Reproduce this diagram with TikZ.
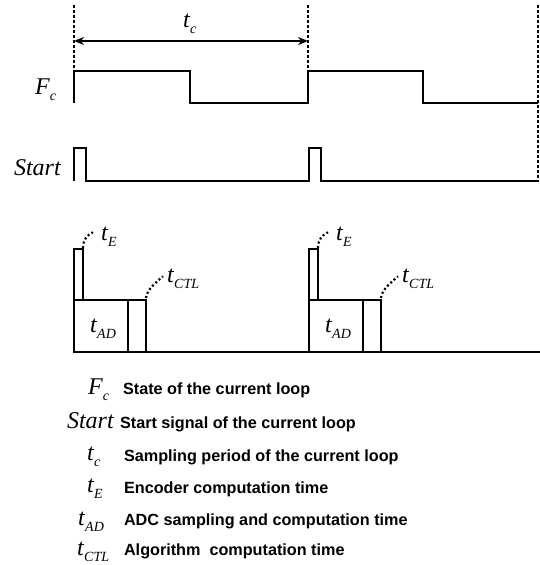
\documentclass[tikz,border=0pt]{standalone}
\usepackage{fontspec}
\setmainfont{Liberation Serif}
\newfontfamily\legendfont{Liberation Sans}
\usetikzlibrary{arrows.meta}
% italic symbol with a lowered small subscript
\newcommand{\sig}[2]{\textit{#1}\raisebox{-6pt}{\fontsize{14}{14}\selectfont\textit{#2}}}

\begin{document}
\begin{tikzpicture}[x=1pt, y=-1pt, line width=2.1pt,
  sym/.style={font=\fontsize{24}{24}\selectfont, inner sep=0pt, anchor=base west},
  desc/.style={font=\legendfont\bfseries\fontsize{16.2}{16.2}\selectfont, inner sep=0pt, anchor=base west},
  guide/.style={line width=1.8pt, dash pattern=on 3pt off 2pt},
  leader/.style={line width=2.2pt, dash pattern=on 2pt off 2.5pt}]
  \useasboundingbox (0,0) rectangle (540,565);

  % period guides
  \coordinate (ga) at (74,5);   \coordinate (gb) at (308,5);   \coordinate (gc) at (538,5);
  \draw[guide] (ga) -- (74,71);
  \draw[guide] (gb) -- (308,71);
  \draw[guide] (gc) -- (538,182);
  \coordinate (pa) at (74,41);  \coordinate (pb) at (308,41);
  \draw[{Stealth[length=10pt,width=8pt]}-{Stealth[length=10pt,width=8pt]}] (pa) -- (pb);
  \node[sym] (tc) at (182,27) {\sig{t}{c}};

  % F_c waveform
  \node[sym] (fc) at (34,94) {\sig{F}{c}};
  \draw (74,103) -- (74,71) -- (190,71) -- (190,103) -- (308,103)
        -- (308,71) -- (423,71) -- (423,103) -- (538,103);

  % Start waveform
  \node[sym] (start) at (13,175) {\textit{Start}};
  \draw (74,181) -- (74,148) -- (86,148) -- (86,181) -- (309,181)
        -- (309,148) -- (321,148) -- (321,181) -- (538,181);

  % task blocks in each period
  \draw (74,352) -- (540,352);
  \foreach \dx/\id in {0/a,235/b} {
    \draw (74+\dx,249) rectangle (83+\dx,300);
    \draw (74+\dx,300) rectangle (128+\dx,352);
    \draw (128+\dx,300) rectangle (146+\dx,352);
    \coordinate (ec\id) at (83+\dx,248);
    \coordinate (cc\id) at (146+\dx,298);
    \node[sym] (tad\id) at (89+\dx,332) {\sig{t}{AD}};
    \node[sym] (te\id) at (100+\dx,240) {\sig{t}{E}};
    \node[sym] (tctl\id) at (166+\dx,282) {\sig{t}{CTL}};
    \draw[leader] (ec\id) .. controls (83+\dx,240) and (87+\dx,235) .. ([shift={(-7,-4)}]te\id.west);
    \draw[leader] (cc\id) .. controls (147+\dx,290) and (154+\dx,284) .. ([shift={(-3,-2)}]tctl\id.west);
  }

  % legend
  \node[sym] (lfc) at (87,394) {\sig{F}{c}};
  \node[desc] (dfc) at (122,394) {State of the current loop};
  \node[sym] (lstart) at (66,428) {\textit{Start}};
  \node[desc] (dstart) at (119,428) {Start signal of the current loop};
  \node[sym] (ltc) at (86,460) {\sig{t}{c}};
  \node[desc] (dtc) at (123,461) {Sampling period of the current loop};
  \node[sym] (lte) at (86,492) {\sig{t}{E}};
  \node[desc] (dte) at (123,493) {Encoder computation time};
  \node[sym] (ltad) at (77,525) {\sig{t}{AD}};
  \node[desc] (dtad) at (123,525) {ADC sampling and computation time};
  \node[sym] (ltctl) at (76,555) {\sig{t}{CTL}};
  \node[desc] (dtctl) at (123,555) {Algorithm\ \ computation time};
\end{tikzpicture}
\end{document}
